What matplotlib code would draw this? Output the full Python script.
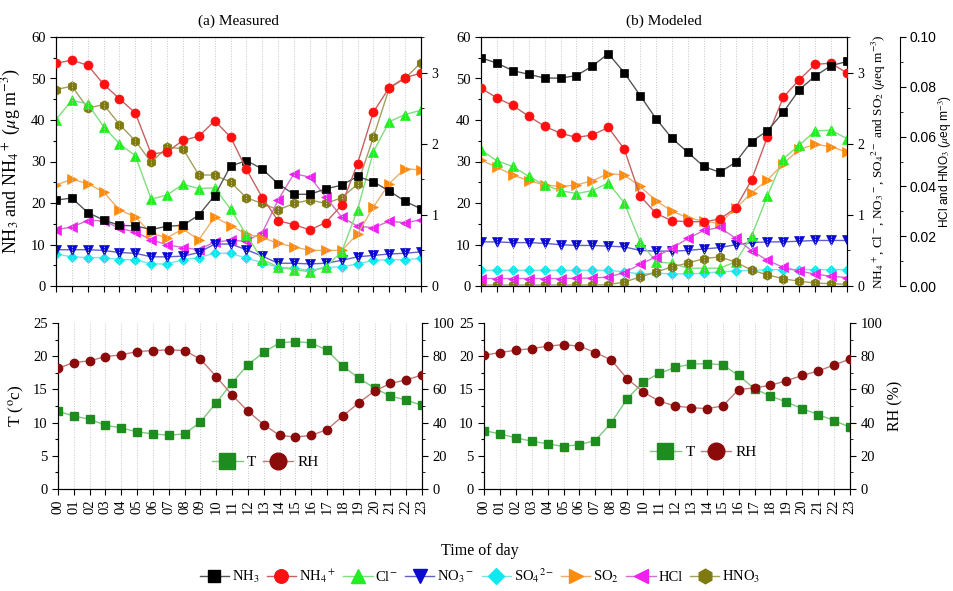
import matplotlib
matplotlib.use("Agg")
import matplotlib.pyplot as plt
from matplotlib.lines import Line2D
from matplotlib.ticker import MultipleLocator

plt.rcParams["font.family"] = ["Liberation Serif", "DejaVu Serif"]
plt.rcParams["mathtext.fontset"] = "stix"

hours = list(range(24))
hour_labels = ["00", "01", "02", "03", "04", "05", "06", "07", "08", "09", "10", "11",
               "12", "13", "14", "15", "16", "17", "18", "19", "20", "21", "22", "23"]

# (a) Measured: NH3 and NH4+ in ug m-3, the rest in ueq m-3
meas_nh3 = [20.7, 21.2, 17.7, 15.9, 14.6, 14.5, 13.6, 14.4, 14.6, 17.1, 21.8, 28.9,
            30.2, 28.2, 24.6, 22.1, 22.1, 23.4, 24.3, 26.4, 25.1, 22.9, 20.4, 18.6]
meas_nh4 = [53.7, 54.4, 53.2, 48.6, 45.1, 41.7, 31.8, 32.3, 35.1, 36.1, 39.8, 35.9,
            28.1, 21.3, 15.7, 14.8, 13.5, 15.3, 19.5, 29.5, 41.9, 47.8, 50.2, 51.3]
meas_cl = [2.34, 2.61, 2.56, 2.24, 2.00, 1.83, 1.22, 1.28, 1.43, 1.37, 1.38, 1.08,
           0.72, 0.37, 0.27, 0.23, 0.20, 0.27, 0.48, 1.07, 1.89, 2.31, 2.41, 2.47]
meas_no3 = [0.51, 0.51, 0.51, 0.50, 0.47, 0.46, 0.41, 0.41, 0.42, 0.47, 0.59, 0.59,
            0.51, 0.42, 0.32, 0.32, 0.31, 0.32, 0.36, 0.41, 0.43, 0.45, 0.46, 0.48]
meas_so4 = [0.45, 0.41, 0.40, 0.40, 0.37, 0.37, 0.31, 0.31, 0.37, 0.40, 0.46, 0.46,
            0.39, 0.33, 0.26, 0.25, 0.22, 0.26, 0.27, 0.31, 0.36, 0.37, 0.37, 0.39]
meas_so2 = [1.42, 1.50, 1.44, 1.32, 1.07, 0.97, 0.74, 0.68, 0.80, 0.65, 0.97, 0.85,
            0.73, 0.68, 0.60, 0.55, 0.50, 0.50, 0.50, 0.73, 1.11, 1.44, 1.65, 1.63]
meas_hcl = [0.79, 0.83, 0.92, 0.92, 0.81, 0.76, 0.65, 0.58, 0.54, 0.51, 0.62, 0.64,
            0.63, 0.75, 1.21, 1.58, 1.53, 1.25, 0.97, 0.84, 0.82, 0.91, 0.89, 0.93]
meas_hno3 = [2.76, 2.81, 2.50, 2.55, 2.27, 2.04, 1.74, 1.95, 1.93, 1.56, 1.56, 1.46,
             1.24, 1.16, 1.07, 1.16, 1.21, 1.16, 1.24, 1.43, 2.09, 2.78, 2.92, 3.14]

# (b) Modeled
mod_nh3 = [55.0, 53.7, 51.9, 51.0, 50.1, 50.1, 50.7, 53.0, 56.0, 51.4, 45.9, 40.3,
           35.6, 32.2, 28.8, 27.4, 29.8, 34.8, 37.4, 41.9, 47.3, 50.6, 53.1, 54.1]
mod_nh4 = [47.7, 45.3, 43.5, 40.9, 38.5, 36.8, 35.8, 36.4, 38.2, 33.0, 21.7, 17.5,
           15.7, 15.5, 15.5, 16.1, 18.8, 25.5, 36.0, 45.5, 49.7, 53.4, 53.7, 51.3]
mod_cl = [1.91, 1.76, 1.68, 1.54, 1.42, 1.34, 1.30, 1.34, 1.45, 1.17, 0.62, 0.34,
          0.32, 0.25, 0.25, 0.25, 0.34, 0.70, 1.27, 1.79, 1.98, 2.18, 2.19, 2.07]
mod_no3 = [0.62, 0.62, 0.61, 0.61, 0.60, 0.58, 0.57, 0.57, 0.56, 0.55, 0.50, 0.49,
           0.49, 0.50, 0.52, 0.54, 0.58, 0.61, 0.62, 0.62, 0.63, 0.64, 0.64, 0.64]
mod_so4 = [0.22, 0.22, 0.22, 0.22, 0.22, 0.22, 0.22, 0.22, 0.22, 0.20, 0.17, 0.18,
           0.17, 0.17, 0.18, 0.20, 0.21, 0.22, 0.23, 0.23, 0.23, 0.23, 0.23, 0.23]
mod_so2 = [1.77, 1.67, 1.56, 1.48, 1.42, 1.40, 1.42, 1.48, 1.58, 1.56, 1.40, 1.20,
           1.05, 0.96, 0.91, 0.88, 1.09, 1.31, 1.49, 1.72, 1.92, 1.99, 1.96, 1.88]
mod_hcl = [0.0030, 0.0030, 0.0030, 0.0030, 0.0030, 0.0030, 0.0031, 0.0032, 0.0036,
           0.0054, 0.0087, 0.0117, 0.0152, 0.0191, 0.0223, 0.0235, 0.0192, 0.0142,
           0.0103, 0.0075, 0.0060, 0.0048, 0.0039, 0.0034]
mod_hno3 = [0.0004, 0.0004, 0.0004, 0.0004, 0.0004, 0.0004, 0.0004, 0.0004, 0.0005,
            0.0016, 0.0036, 0.0056, 0.0077, 0.0092, 0.0110, 0.0117, 0.0096, 0.0064,
            0.0045, 0.0029, 0.0019, 0.0012, 0.0009, 0.0007]

# Meteorology
meas_t = [11.7, 11.0, 10.5, 9.6, 9.2, 8.6, 8.3, 8.1, 8.3, 10.1, 13.0, 16.0,
          18.7, 20.6, 22.0, 22.2, 22.0, 20.9, 18.5, 16.7, 15.2, 14.0, 13.4, 12.6]
meas_rh = [72.7, 76.2, 77.2, 79.8, 80.8, 82.8, 83.4, 83.8, 83.4, 78.2, 67.7, 56.6,
           46.9, 38.8, 32.3, 31.3, 32.3, 35.8, 44.0, 51.9, 59.0, 63.6, 65.7, 68.7]
mod_t = [8.8, 8.3, 7.7, 7.2, 6.8, 6.4, 6.7, 7.3, 10.0, 13.6, 16.1, 17.4,
         18.3, 18.8, 18.9, 18.7, 17.1, 15.1, 14.0, 13.1, 12.1, 11.2, 10.3, 9.3]
mod_rh = [80.6, 82.2, 83.6, 84.6, 86.0, 87.0, 86.0, 82.2, 77.7, 66.4, 58.5, 53.0,
          50.0, 49.0, 48.4, 50.0, 59.9, 60.9, 62.5, 65.2, 68.4, 71.1, 74.7, 78.3]

# Species styles: (legend label, marker, marker colour, line colour)
styles = {
    "nh3": ("NH$_3$", "s", "#000000", "#555555"),
    "nh4": ("NH$_4$$^+$", "o", "#ff1010", "#c86060"),
    "cl": ("Cl$^{-}$", "^", "#22ee22", "#80dd80"),
    "no3": ("NO$_3$$^-$", "v", "#0a0ad0", "#6060c8"),
    "so4": ("SO$_4$$^{2-}$", "D", "#10e8f0", "#80e0e8"),
    "so2": ("SO$_2$", ">", "#ff8c10", "#e8b070"),
    "hcl": ("HCl", "<", "#f020f0", "#d070d0"),
    "hno3": ("HNO$_3$", "h", "#7f7a10", "#a0a060"),
}
MS = {"s": 6.0, "o": 6.5, "^": 7, "v": 6.5, "D": 5.5, ">": 7, "<": 7, "h": 7}

W, H = 954, 591
fig = plt.figure(figsize=(W / 100, H / 100), dpi=100)


def rect(l, r, t, b):
    return [l / W, 1 - b / H, (r - l) / W, (b - t) / H]


def style_axis(ax):
    ax.set_xlim(0, 23)
    ax.set_xticks(hours)
    ax.tick_params(axis="both", which="both", direction="out", labelsize=10.5)
    ax.tick_params(which="major", length=4, width=0.8)
    ax.tick_params(which="minor", length=2.5, width=0.8)
    for h in hours[1:-1]:
        ax.axvline(h, color="#c8c8c8", lw=0.7, ls=":", zorder=0)


def style_right(ax, ymax, major, minor, size=10):
    ax.set_ylim(0, ymax)
    ax.yaxis.set_major_locator(MultipleLocator(major))
    ax.yaxis.set_minor_locator(MultipleLocator(minor))
    ax.tick_params(axis="y", which="both", direction="out", labelsize=size)
    ax.tick_params(which="major", length=4)
    ax.tick_params(which="minor", length=2.5)


def draw(ax, key, values):
    label, m, mc, lc = styles[key]
    ax.plot(hours, values, color=lc, lw=1.0, marker=m, ms=MS[m],
            mfc=mc, mec=mc, mew=0.5, zorder=3)


# ---------- top panels ----------
ax_a = fig.add_axes(rect(56, 421, 37, 286))
ax_b = fig.add_axes(rect(481, 847, 37, 286))
for ax in (ax_a, ax_b):
    style_axis(ax)
    ax.set_ylim(0, 60)
    ax.yaxis.set_major_locator(MultipleLocator(10))
    ax.yaxis.set_minor_locator(MultipleLocator(5))
    ax.set_xticklabels([])

ax_a2 = ax_a.twinx()
ax_b2 = ax_b.twinx()
for ax in (ax_a2, ax_b2):
    style_right(ax, 3.5, 1, 0.5)

ax_b3 = ax_b.twinx()
ax_b3.spines["right"].set_position(("axes", (900 - 481) / 366))
for s in ("top", "bottom", "left"):
    ax_b3.spines[s].set_visible(False)
style_right(ax_b3, 0.1, 0.02, 0.01)
ax_b3.tick_params(axis="y", pad=2.5)
ax_b3.yaxis.set_major_formatter(plt.FormatStrFormatter("%.2f"))
for t in ax_b3.get_yticklabels():
    t.set_family("Liberation Sans")

# Measured: species on the ueq axis, ammonia / ammonium on the ug axis in front
for key, vals in (("hno3", meas_hno3), ("hcl", meas_hcl), ("so2", meas_so2),
                  ("so4", meas_so4), ("no3", meas_no3), ("cl", meas_cl)):
    draw(ax_a2, key, vals)
ax_a.set_zorder(ax_a2.get_zorder() + 1)
ax_a.patch.set_visible(False)
draw(ax_a, "nh3", meas_nh3)
draw(ax_a, "nh4", meas_nh4)

# Modeled
for key, vals in (("hno3", mod_hno3), ("hcl", mod_hcl)):
    draw(ax_b3, key, vals)
for key, vals in (("so2", mod_so2), ("so4", mod_so4), ("no3", mod_no3), ("cl", mod_cl)):
    draw(ax_b2, key, vals)
ax_b.set_zorder(ax_b2.get_zorder() + 2)
ax_b.patch.set_visible(False)
draw(ax_b, "nh4", mod_nh4)
draw(ax_b, "nh3", mod_nh3)

ax_a.set_title("(a) Measured", fontsize=11, pad=9)
ax_b.set_title("(b) Modeled", fontsize=11, pad=9)
ax_a.set_ylabel("NH$_3$ and NH$_4$$^+$ ($\\mu$g m$^{-3}$)", fontsize=13, labelpad=6)
ax_b2.set_ylabel("NH$_4$$^+$, Cl$^-$, NO$_3$$^-$, SO$_4$$^{2-}$ and SO$_2$ ($\\mu$eq m$^{-3}$)",
                 fontsize=9.5, labelpad=4)
ax_b3.set_ylabel("HCl and HNO$_3$ ($\\mu$eq m$^{-3}$)", fontsize=8.6,
                 family="Liberation Sans")
ax_b3.yaxis.set_label_coords((937 - 481) / 366, 0.5)

# ---------- bottom panels ----------
T_MC, T_LC = "#1e8c1e", "#80c880"
RH_MC, RH_LC = "#8b0a0a", "#c07a7a"

ax_c = fig.add_axes(rect(58, 422, 323, 489))
ax_d = fig.add_axes(rect(484, 850, 323, 489))
for ax, tv, rv, lpos in ((ax_c, meas_t, meas_rh, (0.57, 0.16)),
                         (ax_d, mod_t, mod_rh, (0.60, 0.22))):
    style_axis(ax)
    ax.spines["top"].set_visible(False)
    ax.set_ylim(0, 25)
    ax.yaxis.set_major_locator(MultipleLocator(5))
    ax.yaxis.set_minor_locator(MultipleLocator(2.5))
    ax.set_xticklabels(hour_labels, rotation=90, fontsize=10.5)
    ax2 = ax.twinx()
    ax2.spines["top"].set_visible(False)
    style_right(ax2, 100, 20, 10, size=10.5)
    ax.plot(hours, tv, color=T_LC, lw=1.0, marker="s", ms=5.5, mfc=T_MC, mec=T_MC, zorder=3)
    ax2.plot(hours, rv, color=RH_LC, lw=1.0, marker="o", ms=6, mfc=RH_MC, mec=RH_MC, zorder=3)
    handles = [Line2D([], [], color=T_LC, lw=1.0, marker="s", ms=11, mfc=T_MC, mec=T_MC),
               Line2D([], [], color=RH_LC, lw=1.0, marker="o", ms=12, mfc=RH_MC, mec=RH_MC)]
    ax2.legend(handles, ["T", "RH"], loc="center", bbox_to_anchor=lpos, ncol=2,
               frameon=False, fontsize=11, handlelength=2.0, handletextpad=0.3,
               columnspacing=0.4)
    if ax is ax_d:
        ax2.set_ylabel("RH (%)", fontsize=11.5, labelpad=4)

ax_c.set_ylabel("T ($^{\\rm o}$c)", fontsize=12.5, labelpad=4)

fig.text(480 / W, 1 - 551 / H, "Time of day", ha="center", va="center", fontsize=11.5)

legend_handles = []
legend_labels = []
for key in ("nh3", "nh4", "cl", "no3", "so4", "so2", "hcl", "hno3"):
    label, m, mc, lc = styles[key]
    legend_handles.append(Line2D([], [], color=lc, lw=1.0, marker=m, ms=MS[m] * 1.5,
                                 mfc=mc, mec=mc))
    legend_labels.append(label)
fig.legend(legend_handles, legend_labels, loc="center", bbox_to_anchor=(480 / W, 1 - 576 / H),
           ncol=8, frameon=False, fontsize=10.5, handlelength=2.0, handletextpad=0.2,
           columnspacing=0.5)

fig.savefig("out.png", dpi=100)
